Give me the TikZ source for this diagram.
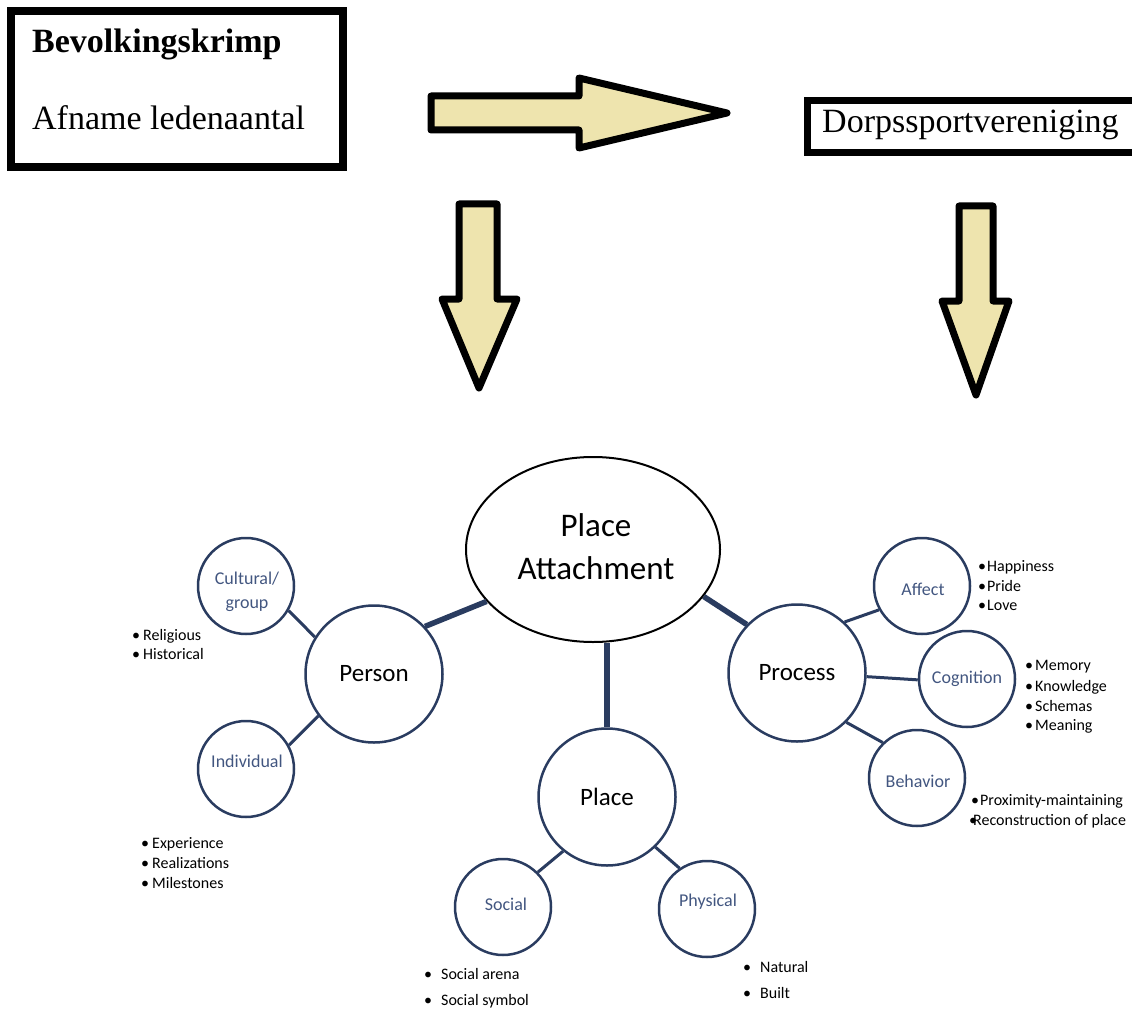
\documentclass[tikz,border=0pt]{standalone}
\usepackage{fontspec}
\setmainfont{Liberation Serif}
\newfontfamily\carl{Carlito}
\usetikzlibrary{shapes.geometric}
\definecolor{arrowfill}{RGB}{238,228,174}
\definecolor{navy}{RGB}{42,60,96}
\definecolor{lbl}{RGB}{66,86,128}
\newcommand\bitem[2]{\makebox[#1][l]{•}#2}
\begin{document}
\begin{tikzpicture}[x=1pt,y=-1pt,
  fatarrow/.style={draw=black, line width=7pt, line join=round, fill=arrowfill},
  topbox/.style={draw=black, rectangle, inner sep=0pt},
  toptext/.style={anchor=base west, inner sep=0pt, font=\fontsize{34}{40}\selectfont},
  bigcirc/.style={circle, draw=navy, line width=2.5pt, inner sep=0pt, minimum size=137pt, font=\carl\fontsize{25}{30}\selectfont},
  subcirc/.style={circle, draw=navy, line width=2.5pt, inner sep=0pt, minimum size=96pt},
  sublabel/.style={inner sep=0pt, text=lbl, align=center, font=\carl\fontsize{18}{24}\selectfont},
  thinlink/.style={draw=navy, line width=3pt},
  thicklink/.style={draw=navy, line width=5.5pt},
  bul/.style={anchor=mid west, inner sep=0pt, font=\carl\fontsize{16}{19}\selectfont},
]
\useasboundingbox (0,0) rectangle (1132,1011);
\begin{scope}
\clip (0,0) rectangle (1132,1011);

% top boxes
\node[topbox, line width=8pt, minimum width=332pt, minimum height=156pt] (box1) at (177,89) {};
\node[toptext] (t1) at (32,53) {\textbf{Bevolkingskrimp}};
\node[toptext] (t2) at (32,130) {Afname ledenaantal};
\node[topbox, line width=7pt, minimum width=400pt, minimum height=52pt] (box2) at (1007,127) {};
\node[toptext] (t3) at (822,133) {Dorpssportvereniging};

% fat arrows
\draw[fatarrow] (431,96) -- (579,96) -- (579,78) -- (727,113) -- (579,148) -- (579,130) -- (431,130) -- cycle;
\draw[fatarrow] (459,204) -- (497,204) -- (497,299) -- (517,299) -- (479,388) -- (442,299) -- (459,299) -- cycle;
\draw[fatarrow] (959,206) -- (993,206) -- (993,301) -- (1009,301) -- (976,395) -- (942,301) -- (959,301) -- cycle;

% bubble diagram
\node[ellipse, draw=black, line width=2pt, minimum width=254pt, minimum height=185pt, inner sep=0pt] (pa) at (593,549.5) {};
\node[inner sep=0pt, align=center, font=\carl\fontsize{33}{43}\selectfont] (patext) at (596,546.5) {Place\\Attachment};

\node[bigcirc] (person) at (374,674) {Person};
\node[bigcirc] (process) at (797,673) {Process};
\node[bigcirc] (place) at (607,797) {Place};

\node[subcirc] (cult) at (246,586) {};
\node[subcirc] (indiv) at (246,769) {};
\node[subcirc] (affect) at (922,586) {};
\node[subcirc] (cogn) at (967,679) {};
\node[subcirc] (behav) at (917,778) {};
\node[subcirc] (social) at (503,907) {};
\node[subcirc] (phys) at (707,909) {};

\node[sublabel] (cultT) at (247,592) {Cultural/\\group};
\node[sublabel] (indivT) at (247,761) {Individual};
\node[sublabel] (affectT) at (923,589) {Affect};
\node[sublabel] (cognT) at (967,679) {Cognition};
\node[sublabel] (behavT) at (918,781) {Behavior};
\node[sublabel] (socialT) at (506,904) {Social};
\node[sublabel] (physT) at (708,902) {Physical};

\draw[thicklink] (person.43) -- (pa.206);
\draw[thicklink] (process.136) -- (pa.337);
\draw[thicklink] (pa.south -| place.north) -- (place.north);

\draw[thinlink] (cult.330) -- (person.148);
\draw[thinlink] (indiv.29) -- (person.217);
\draw[thinlink] (process.47) -- (affect.209);
\draw[thinlink] (process.-3) -- (cogn.181);
\draw[thinlink] (process.315) -- (behav.134);
\draw[thinlink] (place.231) -- (social.45);
\draw[thinlink] (place.314) -- (phys.124);

% bullet lists
\node[bul] (r1) at (132,638) {\bitem{11pt}{Religious}};
\node[bul] (r2) at (132,657) {\bitem{11pt}{Historical}};
\node[bul] (e1) at (141,846) {\bitem{11pt}{Experience}};
\node[bul] (e2) at (141,866) {\bitem{11pt}{Realizations}};
\node[bul] (e3) at (141,886) {\bitem{11pt}{Milestones}};
\node[bul] (a1) at (978,569) {\bitem{9pt}{Happiness}};
\node[bul] (a2) at (978,589) {\bitem{9pt}{Pride}};
\node[bul] (a3) at (978,608) {\bitem{9pt}{Love}};
\node[bul] (c1) at (1025,668) {\bitem{10pt}{Memory}};
\node[bul] (c2) at (1025,689) {\bitem{10pt}{Knowledge}};
\node[bul] (c3) at (1025,709) {\bitem{10pt}{Schemas}};
\node[bul] (c4) at (1025,728) {\bitem{10pt}{Meaning}};
\node[bul] (p1) at (971,803) {\bitem{9pt}{Proximity-maintaining}};
\node[bul] (p2) at (969,823) {\bitem{4pt}{Reconstruction of place}};
\node[bul] (s1) at (424,977) {\bitem{17pt}{Social arena}};
\node[bul] (s2) at (424,1003) {\bitem{17pt}{Social symbol}};
\node[bul] (n1) at (743,970) {\bitem{17pt}{Natural}};
\node[bul] (n2) at (743,996) {\bitem{17pt}{Built}};
\end{scope}
\end{tikzpicture}
\end{document}
